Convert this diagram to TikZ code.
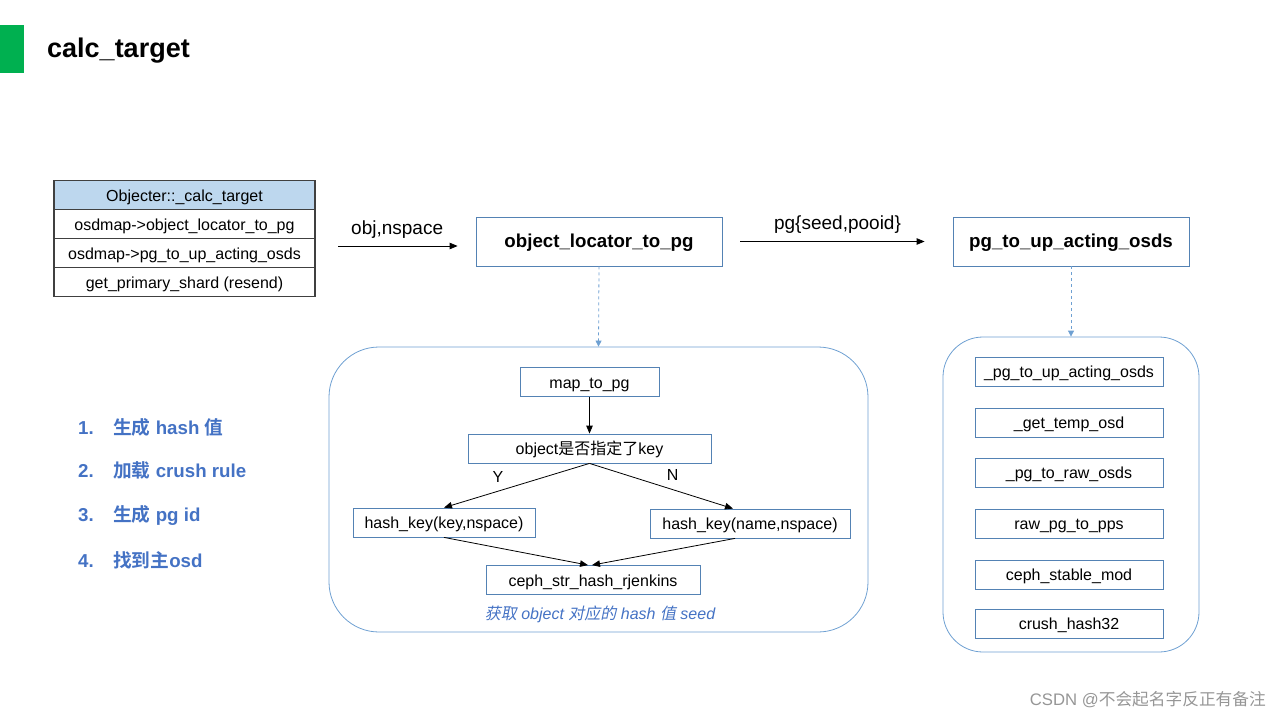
\documentclass[tikz,border=0pt]{standalone}
\usepackage{fontspec}
\setmainfont{Liberation Sans}
\newfontfamily\cjk{Noto Sans CJK SC}[BoldFont={Noto Sans CJK SC Bold}]
\newfontfamily\cjkslant{Noto Sans CJK SC}[FakeSlant=0.2]
\definecolor{titlegreen}{RGB}{0, 176, 80}
\definecolor{boxblue}{RGB}{84, 130, 180}
\definecolor{grpblue}{RGB}{110, 160, 210}
\definecolor{headfill}{RGB}{189, 215, 238}
\definecolor{listblue}{RGB}{68, 114, 196}
\definecolor{notegray}{RGB}{150, 150, 150}
\usetikzlibrary{arrows.meta, positioning}

\begin{document}
\begin{tikzpicture}[x=1pt, y=-1pt,
  fnbox/.style={draw=boxblue, line width=0.8pt, minimum height=29pt, inner sep=0pt, text height=14pt, text depth=2pt, font=\fontsize{16}{19}\selectfont},
  tblrow/.style={draw=black!75, line width=1.2pt, minimum width=261pt, minimum height=29pt, inner sep=0pt, text height=14pt, text depth=2pt, font=\fontsize{16}{19}\selectfont},
  grp/.style={draw=grpblue, line width=0.8pt},
  flow/.style={-{Triangle[length=8pt, width=6.5pt]}, line width=0.8pt},
  lookup/.style={-{Triangle[length=6pt, width=6pt]}, draw=grpblue, dash pattern=on 3pt off 3pt, line width=0.8pt},
  listitem/.style={anchor=west, inner sep=0pt, text=listblue, font=\bfseries\fontsize{18.7}{22}\selectfont}]
  \useasboundingbox (0,0) rectangle (1280,720);

  % Title
  \node[fill=titlegreen, minimum width=24pt, minimum height=48pt, inner sep=0pt] (bar) at (12,49) {};
  \node[anchor=west, inner sep=0pt, font=\bfseries\fontsize{27}{32}\selectfont] (title) at (47,51) {calc\_target};

  % Call table
  \node[tblrow, fill=headfill] (tblhead) at (184.5,195) {Objecter::\_calc\_target};
  \node[tblrow] (tblola) at (184.5,224) {osdmap->object\_locator\_to\_pg};
  \node[tblrow] (tblpgup) at (184.5,253) {osdmap->pg\_to\_up\_acting\_osds};
  \node[tblrow] (tblshard) at (184.5,282) {get\_primary\_shard (resend)};

  % Main steps
  \node[fnbox, minimum width=246pt, minimum height=49pt, text height=14.5pt, text depth=3pt, font=\bfseries\fontsize{18.7}{22}\selectfont] (olpg) at (599,241.5) {object\_locator\_to\_pg};
  \node[fnbox, minimum width=236pt, minimum height=49pt, text height=14.5pt, text depth=3pt, font=\bfseries\fontsize{18.7}{22}\selectfont] (pgup) at (1071,241.5) {pg\_to\_up\_acting\_osds};

  \coordinate (objin) at (338,246);
  \draw[flow, shorten >=18pt] (objin) -- node[pos=0.43, above=4pt, font=\fontsize{19}{22}\selectfont] {obj,nspace} (objin -| olpg.west);
  \draw[flow, shorten <=18pt, shorten >=28pt] (olpg.east) -- node[above=4pt, font=\fontsize{19}{22}\selectfont] {pg\{seed,pooid\}} (pgup.west);

  % Hash group
  \node[grp, rounded corners=50pt, minimum width=539pt, minimum height=285pt] (hashgrp) at (598.5,489.5) {};
  \draw[lookup] (olpg.south) -- (hashgrp.north);

  \node[fnbox, minimum width=139pt] (maptopg) at (589.5,382) {map\_to\_pg};
  \node[fnbox, minimum width=243pt] (askkey) at (589.5,448.5) {object{\cjk 是否指定了}key};
  \node[fnbox, minimum width=182pt] (hashkey) at (444,522.5) {hash\_key(key,nspace)};
  \node[fnbox, minimum width=200pt] (hashname) at (750,523.5) {hash\_key(name,nspace)};
  \node[fnbox, minimum width=214pt] (rjenkins) at (593,580) {ceph\_str\_hash\_rjenkins};
  \node[text=listblue, font=\itshape\fontsize{16}{19}\selectfont] (seednote) at (600,614) {{\cjkslant 获取} object {\cjkslant 对应的} hash {\cjkslant 值} seed};

  \draw[flow] (maptopg.south) -- (askkey.north);
  \draw[flow] (askkey.south) -- node[pos=0.63, above=5pt, font=\fontsize{16}{19}\selectfont] {Y} (hashkey.north);
  \draw[flow] (askkey.south) -- node[pos=0.58, above=5pt, font=\fontsize{16}{19}\selectfont] {N} ([xshift=-17pt]hashname.north);
  \draw[flow] (hashkey.south) -- ([xshift=-5pt]rjenkins.north);
  \draw[flow] ([xshift=-15pt]hashname.south) -- ([xshift=-1pt]rjenkins.north);

  % Up/acting group
  \node[grp, rounded corners=40pt, minimum width=256pt, minimum height=315pt] (pgupgrp) at (1071,494.5) {};
  \draw[lookup] (pgup.south) -- (pgupgrp.north);

  \node[fnbox, minimum width=188pt] (pgupint) at (1069,371.5) {\_pg\_to\_up\_acting\_osds};
  \node[fnbox, minimum width=188pt] (temposd) at (1069,422.5) {\_get\_temp\_osd};
  \node[fnbox, minimum width=188pt] (rawosds) at (1069,472.5) {\_pg\_to\_raw\_osds};
  \node[fnbox, minimum width=188pt] (rawpps) at (1069,523.5) {raw\_pg\_to\_pps};
  \node[fnbox, minimum width=188pt] (stablemod) at (1069,574.5) {ceph\_stable\_mod};
  \node[fnbox, minimum width=188pt] (crushhash) at (1069,623.5) {crush\_hash32};

  % Steps list
  \node[listitem] (stepa) at (78,427) {\makebox[35pt][l]{1.}{\cjk 生成} hash {\cjk 值}};
  \node[listitem] (stepb) at (78,470) {\makebox[35pt][l]{2.}{\cjk 加载} crush rule};
  \node[listitem] (stepc) at (78,515) {\makebox[35pt][l]{3.}{\cjk 生成} pg id};
  \node[listitem] (stepd) at (78,560) {\makebox[35pt][l]{4.}{\cjk 找到主}osd};

  % Watermark
  \node[anchor=east, inner sep=0pt, text=notegray, font=\fontsize{16.7}{20}\selectfont] (mark) at (1266,700) {CSDN @{\cjk 不会起名字反正有备注}};
\end{tikzpicture}
\end{document}
